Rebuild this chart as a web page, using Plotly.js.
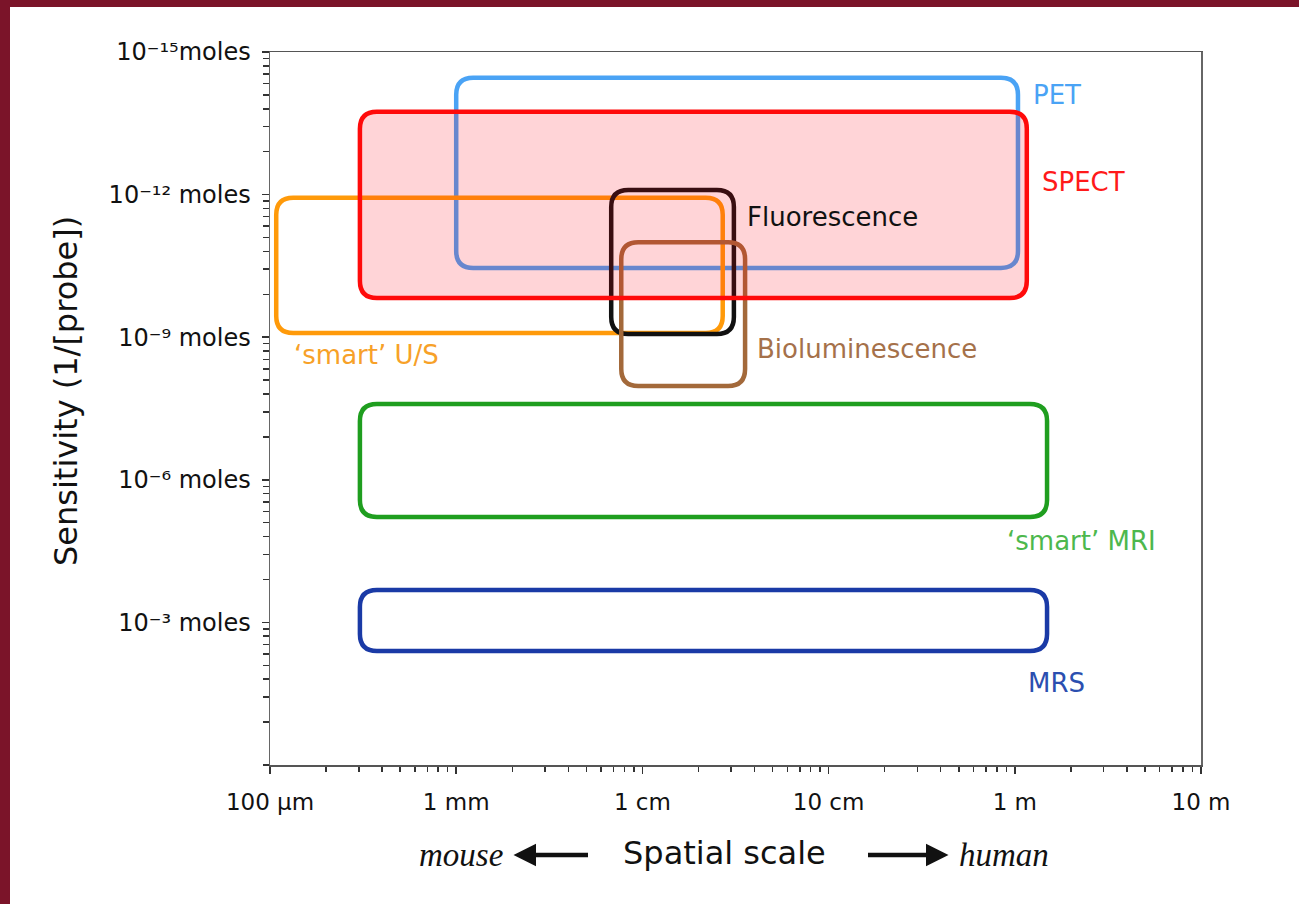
<!DOCTYPE html>
<html>
<head>
<meta charset="utf-8">
<script src="https://cdn.plot.ly/plotly-3.0.1.min.js"></script>
<style>
  html, body { margin: 0; padding: 0; background: #ffffff; }
  body { width: 1299px; height: 904px; overflow: hidden; position: relative; }
  #frameTop { position: absolute; left: 0; top: 0; width: 1299px; height: 7px; background: #7b1429; }
  #frameLeft { position: absolute; left: 0; top: 0; width: 10px; height: 904px; background: #7b1429; }
  #chart { position: absolute; left: 10px; top: 7px; width: 1289px; height: 897px; }
</style>
</head>
<body>
<div id="frameTop"></div>
<div id="frameLeft"></div>
<div id="chart"></div>
<script>
// ---------------- data ----------------
const modalities = ['PET', 'SPECT', '‘smart’ U/S', 'Fluorescence', 'Bioluminescence', '‘smart’ MRI', 'MRS'];
// spatial scale range (metres)
const scaleMin = [1.0e-3, 3.04e-4, 1.08e-4, 6.8e-3, 7.7e-3, 3.04e-4, 3.04e-4];
const scaleMax = [1.04, 1.16, 0.027, 0.031, 0.0356, 1.49, 1.49];
// sensitivity range (moles)
const molesMin = [3.5e-15, 1.8e-14, 1.17e-12, 8.0e-13, 1.0e-11, 2.55e-8, 2.08e-4];
const molesMax = [3.5e-11, 1.5e-10, 8.2e-10, 8.6e-10, 1.06e-8, 6.07e-6, 4.0e-3];

const xTickVals = [1e-4, 1e-3, 1e-2, 1e-1, 1, 10];
const xTickText = ['100 µm', '1 mm', '1 cm', '10 cm', '1 m', '10 m'];
const yTickVals = [1e-15, 1e-12, 1e-9, 1e-6, 1e-3];
const yTickText = ['10⁻¹⁵moles', '10⁻¹² moles', '10⁻⁹ moles', '10⁻⁶ moles', '10⁻³ moles'];

// ---------------- styles ----------------
const styles = {
  'PET':             {line: '#4aa3f5', text: '#4aa3f5', fill: null, lx: 1031, ly: 95},
  'SPECT':           {line: '#ff0a0a', text: '#ff1a1a', fill: 'rgba(255,0,20,0.17)', lx: 1040, ly: 182},
  '‘smart’ U/S':     {line: '#ff9a0a', text: '#f7a128', fill: null, lx: 292, ly: 355},
  'Fluorescence':    {line: '#111111', text: '#111111', fill: null, lx: 745, ly: 217},
  'Bioluminescence': {line: '#a3693a', text: '#a5714a', fill: null, lx: 755, ly: 349},
  '‘smart’ MRI':     {line: '#1f9e1f', text: '#4db84d', fill: null, lx: 1005, ly: 541},
  'MRS':             {line: '#1a3aa6', text: '#2b4fb0', fill: null, lx: 1026, ly: 683}
};
const drawOrder = ['PET', '‘smart’ U/S', 'Fluorescence', 'Bioluminescence', '‘smart’ MRI', 'MRS', 'SPECT'];

// layout geometry (pixels)
const W = 1289, H = 897;
const M = {l: 260, r: 98, t: 45, b: 139};
const plotW = W - M.l - M.r, plotH = H - M.t - M.b;
const xRangeLog = [-4, 1];
const yRangeLog = [0, -15];
const pxPerDecX = plotW / (xRangeLog[1] - xRangeLog[0]);
const pxPerDecY = plotH / Math.abs(yRangeLog[1] - yRangeLog[0]);
const cornerPx = 17;
const px2paperX = px => (px - (M.l + 10)) / plotW;
const px2paperY = py => ((M.t + 7 + plotH) - py) / plotH;

function roundedPath(x0, x1, y0, y1) {
  const lx0 = Math.log10(x0), lx1 = Math.log10(x1);
  const ly0 = Math.log10(y0), ly1 = Math.log10(y1);
  const rx = Math.min(cornerPx / pxPerDecX, (lx1 - lx0) / 2);
  const ry = Math.min(cornerPx / pxPerDecY, (ly1 - ly0) / 2);
  const p = (a, b) => Math.pow(10, a) + ',' + Math.pow(10, b);
  return 'M' + p(lx0 + rx, ly0) +
    ' L' + p(lx1 - rx, ly0) +
    ' Q' + p(lx1, ly0) + ' ' + p(lx1, ly0 + ry) +
    ' L' + p(lx1, ly1 - ry) +
    ' Q' + p(lx1, ly1) + ' ' + p(lx1 - rx, ly1) +
    ' L' + p(lx0 + rx, ly1) +
    ' Q' + p(lx0, ly1) + ' ' + p(lx0, ly1 - ry) +
    ' L' + p(lx0, ly0 + ry) +
    ' Q' + p(lx0, ly0) + ' ' + p(lx0 + rx, ly0) + ' Z';
}

const shapes = drawOrder.map(name => {
  const i = modalities.indexOf(name);
  const st = styles[name];
  return {
    type: 'path', xref: 'x', yref: 'y', layer: 'above',
    path: roundedPath(scaleMin[i], scaleMax[i], molesMin[i], molesMax[i]),
    line: {color: st.line, width: 4.5},
    fillcolor: st.fill || 'rgba(0,0,0,0)'
  };
});

const labelFont = 'DejaVu Sans, Verdana, sans-serif';
const serifFont = 'Liberation Serif, Times New Roman, serif';
const annotations = modalities.map(name => {
  const st = styles[name];
  return {
    xref: 'paper', yref: 'paper', x: px2paperX(st.lx), y: px2paperY(st.ly),
    xanchor: 'left', yanchor: 'middle', showarrow: false,
    text: name, font: {family: labelFont, size: 26, color: st.text}
  };
});

// axis titles and direction hints
annotations.push({
  xref: 'paper', yref: 'paper', x: px2paperX(724), y: px2paperY(853),
  xanchor: 'center', yanchor: 'middle', showarrow: false,
  text: 'Spatial scale', font: {family: labelFont, size: 32, color: '#111'}
});
annotations.push({
  xref: 'paper', yref: 'paper', x: px2paperX(66), y: px2paperY(391),
  xanchor: 'center', yanchor: 'middle', showarrow: false, textangle: -90,
  text: 'Sensitivity (1/[probe])', font: {family: labelFont, size: 32, color: '#111'}
});
// "mouse" / "human" with arrows pointing at them (arrow head on the text side)
annotations.push({
  xref: 'paper', yref: 'paper', x: px2paperX(588), y: px2paperY(855),
  axref: 'pixel', ayref: 'pixel', ax: -127, ay: 0,
  text: '<i>mouse</i>', font: {family: serifFont, size: 33, color: '#111'},
  borderpad: 0, showarrow: true, arrowside: 'start',
  startarrowhead: 2, startarrowsize: 1.0, arrowwidth: 4.5, arrowcolor: '#111',
  startstandoff: 10, standoff: 0
});
annotations.push({
  xref: 'paper', yref: 'paper', x: px2paperX(868), y: px2paperY(855),
  axref: 'pixel', ayref: 'pixel', ax: 136, ay: 0,
  text: '<i>human</i>', font: {family: serifFont, size: 33, color: '#111'},
  borderpad: 0, showarrow: true, arrowside: 'start',
  startarrowhead: 2, startarrowsize: 1.0, arrowwidth: 4.5, arrowcolor: '#111',
  startstandoff: 10, standoff: 0
});

// minor ticks
const xMinor = [];
for (let d = -4; d < 1; d++) for (let k = 2; k <= 9; k++) xMinor.push(k * Math.pow(10, d));
const yMinor = [1];
for (let a = -15; a < 0; a += 3) for (let k = 2; k <= 9; k++) yMinor.push(Math.pow(10, a + 3) / Math.pow(k, 3));

const layout = {
  width: W, height: H,
  margin: M,
  paper_bgcolor: '#ffffff', plot_bgcolor: '#ffffff',
  showlegend: false,
  font: {family: labelFont, color: '#111'},
  xaxis: {
    type: 'log', range: xRangeLog, autorange: false,
    tickmode: 'array', tickvals: xTickVals, ticktext: xTickText,
    ticks: 'outside', ticklen: 7, tickwidth: 1.5, tickcolor: '#333',
    ticklabelstandoff: 9,
    tickfont: {family: labelFont, size: 23, color: '#111'},
    showline: true, linecolor: '#555', linewidth: 1.5, mirror: true,
    showgrid: false, zeroline: false,
    minor: {tickmode: 'array', tickvals: xMinor, ticks: 'outside', ticklen: 5, tickwidth: 1.5, tickcolor: '#333', showgrid: false}
  },
  yaxis: {
    type: 'log', range: yRangeLog, autorange: false,
    tickmode: 'array', tickvals: yTickVals, ticktext: yTickText,
    ticks: 'outside', ticklen: 7, tickwidth: 1.5, tickcolor: '#333',
    ticklabelstandoff: 6,
    tickfont: {family: labelFont, size: 24, color: '#111'},
    showline: true, linecolor: '#666', linewidth: 1.5, mirror: true,
    showgrid: false, zeroline: false,
    minor: {tickmode: 'array', tickvals: yMinor, ticks: 'outside', ticklen: 6, tickwidth: 1.5, tickcolor: '#333', showgrid: false}
  },
  shapes: shapes,
  annotations: annotations
};

// an invisible anchor trace so the axes are built from the data range
const traces = [{
  x: scaleMin.concat(scaleMax), y: molesMin.concat(molesMax),
  type: 'scatter', mode: 'markers', marker: {opacity: 0}, hoverinfo: 'skip', showlegend: false
}];

Plotly.newPlot('chart', traces, layout, {staticPlot: true, displayModeBar: false});
</script>
</body>
</html>
